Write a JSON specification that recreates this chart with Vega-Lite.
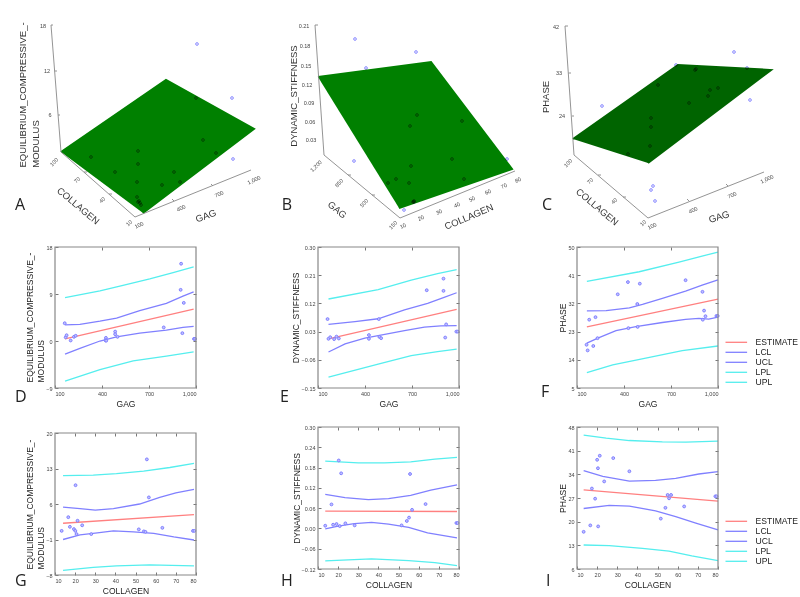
{"$schema":"https://vega.github.io/schema/vega-lite/v6.json","background":"white","padding":{"left":14,"top":22,"right":0,"bottom":0},"bounds":"flush","columns":3,"spacing":{"row":39,"column":118},"resolve":{"legend":{"color":"independent"}},
"config":{"view":{"stroke":null},"font":"Liberation Sans","axis":{"grid":false,"domain":false,"ticks":true,"tickSize":-3,"tickColor":"#777","labelFontSize":5.5,"labelColor":"#444","labelPadding":6,"titleFontSize":8.5,"titleFontWeight":"normal","titleColor":"#222","titlePadding":3},"title":{"orient":"bottom","anchor":"start","frame":"group","font":"Open Sans","fontSize":16,"fontWeight":"normal","color":"#222"}},
"datasets":{
"one":[{"frame":1}],
"Al":[{"g":"s","o":1,"h":61,"v":152},{"g":"s","o":2,"h":166,"v":80},{"g":"s","o":3,"h":254,"v":129},{"g":"s","o":4,"h":143,"v":213}],
"Bl":[{"g":"s","o":1,"h":318,"v":77},{"g":"s","o":2,"h":431,"v":62},{"g":"s","o":3,"h":512,"v":169},{"g":"s","o":4,"h":399,"v":208}],
"Cl":[{"g":"s","o":1,"h":573,"v":139},{"g":"s","o":2,"h":678,"v":65},{"g":"s","o":3,"h":771,"v":70},{"g":"s","o":4,"h":648,"v":163}],
"Aa":[{"g":"t","o":1,"h":53,"v":25},{"g":"t","o":2,"h":51,"v":25},{"g":"t","o":3,"h":61,"v":152},{"g":"t","o":4,"h":135,"v":217},{"g":"t","o":5,"h":251,"v":170},{"g":"a","o":1,"h":54.6,"v":71},{"g":"a","o":2,"h":57,"v":71},{"g":"b","o":1,"h":58,"v":115},{"g":"b","o":2,"h":60,"v":115},{"g":"c","o":1,"h":84,"v":172},{"g":"c","o":2,"h":87,"v":172},{"g":"d","o":1,"h":109,"v":194},{"g":"d","o":2,"h":112,"v":194},{"g":"e","o":1,"h":174,"v":201},{"g":"e","o":2,"h":172,"v":199},{"g":"f","o":1,"h":213,"v":186},{"g":"f","o":2,"h":211,"v":184}],
"Ba":[{"g":"t","o":1,"h":318,"v":25},{"g":"t","o":2,"h":315,"v":25},{"g":"t","o":3,"h":324,"v":155},{"g":"t","o":4,"h":400,"v":218},{"g":"t","o":5,"h":515,"v":171},{"g":"a","o":1,"h":348,"v":175},{"g":"a","o":2,"h":351,"v":175},{"g":"b","o":1,"h":372,"v":195},{"g":"b","o":2,"h":375,"v":195}],
"Ca":[{"g":"t","o":1,"h":568,"v":26},{"g":"t","o":2,"h":565,"v":26},{"g":"t","o":3,"h":574,"v":155},{"g":"t","o":4,"h":648,"v":218},{"g":"t","o":5,"h":764,"v":172},{"g":"a","o":1,"h":568.5,"v":73},{"g":"a","o":2,"h":571,"v":73},{"g":"b","o":1,"h":572,"v":116},{"g":"b","o":2,"h":574,"v":116},{"g":"c","o":1,"h":598,"v":175},{"g":"c","o":2,"h":601,"v":175},{"g":"d","o":1,"h":623,"v":197},{"g":"d","o":2,"h":626,"v":197},{"g":"e","o":1,"h":689,"v":201},{"g":"e","o":2,"h":687,"v":199},{"g":"f","o":1,"h":728,"v":186},{"g":"f","o":2,"h":726,"v":184}],
"Ap":[{"h":197,"v":44},{"h":232,"v":98},{"h":233,"v":159},{"h":196,"v":98},{"h":203,"v":140},{"h":216,"v":153},{"h":91,"v":157},{"h":115,"v":172},{"h":138,"v":151},{"h":138,"v":164},{"h":137,"v":182},{"h":174,"v":172},{"h":180,"v":182},{"h":162,"v":185},{"h":137,"v":197},{"h":139,"v":201},{"h":141,"v":205},{"h":138,"v":202},{"h":140,"v":203}],
"Bp":[{"h":355,"v":39},{"h":416,"v":52},{"h":366,"v":68},{"h":417,"v":115},{"h":410,"v":126},{"h":462,"v":121},{"h":452,"v":159},{"h":507,"v":159},{"h":354,"v":161},{"h":411,"v":166},{"h":388,"v":183},{"h":396,"v":179},{"h":409,"v":183},{"h":464,"v":179},{"h":413,"v":202},{"h":414,"v":202},{"h":404,"v":210},{"h":414,"v":201}],
"Cp":[{"h":602,"v":106},{"h":676,"v":65},{"h":696,"v":69},{"h":734,"v":52},{"h":747,"v":68},{"h":750,"v":100},{"h":658,"v":85},{"h":651,"v":118},{"h":651,"v":127},{"h":650,"v":146},{"h":628,"v":154},{"h":689,"v":103},{"h":708,"v":96},{"h":710,"v":90},{"h":718,"v":88},{"h":653,"v":186},{"h":651,"v":190},{"h":655,"v":201},{"h":695,"v":70}],
"At":[{"k":"z","t":"18","h":43,"v":26},{"k":"z","t":"12","h":47,"v":71},{"k":"z","t":"6","h":50,"v":115},{"k":"c","t":"100","h":54,"v":162},{"k":"c","t":"70","h":77,"v":180},{"k":"c","t":"40","h":102,"v":200},{"k":"c","t":"10","h":129,"v":223},{"k":"g","t":"100","h":139,"v":225},{"k":"g","t":"400","h":181,"v":208},{"k":"g","t":"700","h":219,"v":194},{"k":"g","t":"1,000","h":254,"v":180},{"k":"C","t":"COLLAGEN","h":78,"v":206},{"k":"G","t":"GAG","h":206,"v":216},{"k":"Z","t":"EQUILIBRIUM_COMPRESSIVE_-","h":23,"v":95},{"k":"Z","t":"MODULUS","h":36,"v":144},{"k":"L","t":"A","h":20,"v":205}],
"Bt":[{"k":"z","t":"0.21","h":304,"v":26},{"k":"z","t":"0.18","h":305,"v":46},{"k":"z","t":"0.15","h":306,"v":66},{"k":"z","t":"0.12","h":307,"v":85},{"k":"z","t":"0.09","h":309,"v":103},{"k":"z","t":"0.06","h":310,"v":122},{"k":"z","t":"0.03","h":311,"v":140},{"k":"c","t":"1,200","h":316,"v":166},{"k":"c","t":"850","h":339,"v":183},{"k":"c","t":"500","h":364,"v":203},{"k":"c","t":"150","h":393,"v":225},{"k":"g","t":"10","h":403,"v":226},{"k":"g","t":"20","h":421,"v":218},{"k":"g","t":"30","h":439,"v":212},{"k":"g","t":"40","h":457,"v":205},{"k":"g","t":"50","h":472,"v":199},{"k":"g","t":"60","h":488,"v":192},{"k":"g","t":"70","h":504,"v":186},{"k":"g","t":"80","h":518,"v":180},{"k":"C","t":"GAG","h":337,"v":210},{"k":"G","t":"COLLAGEN","h":469,"v":217},{"k":"Z","t":"DYNAMIC_STIFFNESS","h":294,"v":96},{"k":"L","t":"B","h":287,"v":205}],
"Ct":[{"k":"z","t":"42","h":556,"v":27},{"k":"z","t":"33","h":559,"v":73},{"k":"z","t":"24","h":562,"v":116},{"k":"c","t":"100","h":568,"v":163},{"k":"c","t":"70","h":590,"v":181},{"k":"c","t":"40","h":614,"v":201},{"k":"c","t":"10","h":643,"v":223},{"k":"g","t":"100","h":652,"v":226},{"k":"g","t":"400","h":693,"v":210},{"k":"g","t":"700","h":732,"v":195},{"k":"g","t":"1,000","h":767,"v":179},{"k":"C","t":"COLLAGEN","h":597,"v":207},{"k":"G","t":"GAG","h":719,"v":217},{"k":"Z","t":"PHASE","h":546,"v":97},{"k":"L","t":"C","h":547,"v":205}],
"Dl":[{"s":"UPL","x":164,"y":8.3},{"s":"UPL","x":387,"y":9.6},{"s":"UPL","x":514,"y":10.5},{"s":"UPL","x":705,"y":11.9},{"s":"UPL","x":854,"y":13.1},{"s":"UPL","x":985,"y":14.2},{"s":"UCL","x":164,"y":3.1},{"s":"UCL","x":259,"y":3.2},{"s":"UCL","x":387,"y":3.8},{"s":"UCL","x":493,"y":4.4},{"s":"UCL","x":641,"y":5.8},{"s":"UCL","x":811,"y":7.2},{"s":"UCL","x":917,"y":8.6},{"s":"UCL","x":985,"y":9.4},{"s":"ESTIMATE","x":164,"y":0.4},{"s":"ESTIMATE","x":985,"y":6.1},{"s":"LCL","x":164,"y":-2.5},{"s":"LCL","x":259,"y":-1.4},{"s":"LCL","x":387,"y":0},{"s":"LCL","x":493,"y":0.8},{"s":"LCL","x":641,"y":1.5},{"s":"LCL","x":811,"y":2.1},{"s":"LCL","x":917,"y":2.6},{"s":"LCL","x":985,"y":2.8},{"s":"LPL","x":164,"y":-7.7},{"s":"LPL","x":387,"y":-5.5},{"s":"LPL","x":599,"y":-3.8},{"s":"LPL","x":811,"y":-2.9},{"s":"LPL","x":985,"y":-2.1}],
"Dp":[{"x":162,"y":3.4},{"x":168,"y":0.7},{"x":174,"y":1.1},{"x":200,"y":0.1},{"x":221,"y":0.8},{"x":232,"y":1},{"x":425,"y":0.6},{"x":423,"y":0.1},{"x":427,"y":0.06},{"x":484,"y":1.8},{"x":484,"y":1.3},{"x":499,"y":0.8},{"x":794,"y":2.6},{"x":905,"y":14.8},{"x":902,"y":9.8},{"x":922,"y":7.3},{"x":913,"y":1.5},{"x":987,"y":0.4},{"x":994,"y":0.4}],
"El":[{"s":"UPL","x":167,"y":0.134},{"s":"UPL","x":484,"y":0.164},{"s":"UPL","x":695,"y":0.194},{"s":"UPL","x":863,"y":0.215},{"s":"UPL","x":985,"y":0.228},{"s":"UCL","x":167,"y":0.053},{"s":"UCL","x":336,"y":0.062},{"s":"UCL","x":484,"y":0.071},{"s":"UCL","x":652,"y":0.099},{"s":"UCL","x":800,"y":0.12},{"s":"UCL","x":905,"y":0.139},{"s":"UCL","x":985,"y":0.154},{"s":"ESTIMATE","x":167,"y":0.007},{"s":"ESTIMATE","x":985,"y":0.101},{"s":"LCL","x":167,"y":-0.035},{"s":"LCL","x":273,"y":-0.009},{"s":"LCL","x":399,"y":0.009},{"s":"LCL","x":484,"y":0.017},{"s":"LCL","x":652,"y":0.033},{"s":"LCL","x":779,"y":0.044},{"s":"LCL","x":884,"y":0.048},{"s":"LCL","x":985,"y":0.049},{"s":"LPL","x":167,"y":-0.115},{"s":"LPL","x":484,"y":-0.074},{"s":"LPL","x":695,"y":-0.047},{"s":"LPL","x":863,"y":-0.034},{"s":"LPL","x":985,"y":-0.026}],
"Ep":[{"x":161,"y":0.07},{"x":167,"y":0.007},{"x":178,"y":0.012},{"x":203,"y":0.006},{"x":218,"y":0.014},{"x":233,"y":0.008},{"x":425,"y":0.019},{"x":425,"y":0.007},{"x":488,"y":0.07},{"x":492,"y":0.013},{"x":503,"y":0.009},{"x":794,"y":0.162},{"x":901,"y":0.199},{"x":901,"y":0.16},{"x":918,"y":0.053},{"x":912,"y":0.011},{"x":983,"y":0.03},{"x":992,"y":0.03}],
"Fl":[{"s":"UPL","x":163,"y":39},{"s":"UPL","x":497,"y":42.1},{"s":"UPL","x":751,"y":45.2},{"s":"UPL","x":1000,"y":48.4},{"s":"UCL","x":163,"y":29.6},{"s":"UCL","x":286,"y":29.7},{"s":"UCL","x":434,"y":30.6},{"s":"UCL","x":518,"y":31.7},{"s":"UCL","x":645,"y":33.6},{"s":"UCL","x":793,"y":35.9},{"s":"UCL","x":899,"y":37.8},{"s":"UCL","x":1000,"y":39.5},{"s":"ESTIMATE","x":163,"y":24.5},{"s":"ESTIMATE","x":1000,"y":33.4},{"s":"LCL","x":163,"y":19.3},{"s":"LCL","x":233,"y":20.9},{"s":"LCL","x":349,"y":23.3},{"s":"LCL","x":476,"y":24.6},{"s":"LCL","x":645,"y":25.9},{"s":"LCL","x":793,"y":26.9},{"s":"LCL","x":878,"y":27.2},{"s":"LCL","x":941,"y":27},{"s":"LCL","x":1000,"y":27.6},{"s":"LPL","x":163,"y":9.9},{"s":"LPL","x":328,"y":12.4},{"s":"LPL","x":539,"y":14.5},{"s":"LPL","x":772,"y":16.9},{"s":"LPL","x":1000,"y":18.4}],
"Fp":[{"x":161,"y":18.8},{"x":168,"y":17},{"x":178,"y":26.8},{"x":204,"y":18.4},{"x":218,"y":27.6},{"x":231,"y":20.9},{"x":360,"y":34.9},{"x":425,"y":38.8},{"x":428,"y":24.1},{"x":487,"y":24.5},{"x":485,"y":31.8},{"x":501,"y":38.3},{"x":793,"y":39.4},{"x":901,"y":35.7},{"x":911,"y":29.7},{"x":903,"y":26.8},{"x":920,"y":27.9},{"x":990,"y":28},{"x":998,"y":28}],
"Gl":[{"s":"UPL","x":14,"y":11.6},{"s":"UPL","x":29,"y":11.7},{"s":"UPL","x":40.5,"y":12},{"s":"UPL","x":54,"y":12.5},{"s":"UPL","x":67,"y":13.2},{"s":"UPL","x":79,"y":14},{"s":"UCL","x":14,"y":5.4},{"s":"UCL","x":22.4,"y":5.1},{"s":"UCL","x":30,"y":4.8},{"s":"UCL","x":39,"y":5.1},{"s":"UCL","x":52,"y":6},{"s":"UCL","x":62,"y":7.3},{"s":"UCL","x":70,"y":8.2},{"s":"UCL","x":79,"y":8.9},{"s":"ESTIMATE","x":14,"y":2.2},{"s":"ESTIMATE","x":79,"y":3.9},{"s":"LCL","x":14,"y":-1},{"s":"LCL","x":22.4,"y":-0.1},{"s":"LCL","x":31,"y":0.3},{"s":"LCL","x":39,"y":0.7},{"s":"LCL","x":49,"y":0.5},{"s":"LCL","x":59,"y":0.2},{"s":"LCL","x":69,"y":-0.5},{"s":"LCL","x":79,"y":-1.1},{"s":"LPL","x":14,"y":-7.1},{"s":"LPL","x":29,"y":-6.5},{"s":"LPL","x":40.5,"y":-6.2},{"s":"LPL","x":57,"y":-6},{"s":"LPL","x":79,"y":-6.2}],
"Gp":[{"x":13.3,"y":0.7},{"x":16.6,"y":3.4},{"x":17.4,"y":1.5},{"x":19.4,"y":1.05},{"x":20.1,"y":0.7},{"x":20.2,"y":9.7},{"x":20.7,"y":0.07},{"x":21.2,"y":2.7},{"x":23.5,"y":1.8},{"x":28,"y":0.07},{"x":51.6,"y":1},{"x":54.1,"y":0.6},{"x":54.9,"y":0.5},{"x":55.6,"y":14.8},{"x":56.6,"y":7.3},{"x":63.3,"y":1.3},{"x":78.5,"y":0.7},{"x":79.2,"y":0.7}],
"Hl":[{"s":"UPL","x":13.6,"y":0.199},{"s":"UPL","x":30,"y":0.194},{"s":"UPL","x":43,"y":0.194},{"s":"UPL","x":56,"y":0.197},{"s":"UPL","x":68,"y":0.205},{"s":"UPL","x":79,"y":0.21},{"s":"UCL","x":13.6,"y":0.101},{"s":"UCL","x":23.4,"y":0.091},{"s":"UCL","x":35,"y":0.085},{"s":"UCL","x":45,"y":0.088},{"s":"UCL","x":56,"y":0.098},{"s":"UCL","x":66,"y":0.113},{"s":"UCL","x":79,"y":0.129},{"s":"ESTIMATE","x":13.6,"y":0.051},{"s":"ESTIMATE","x":79,"y":0.05},{"s":"LCL","x":13.6,"y":-0.001},{"s":"LCL","x":20,"y":0.007},{"s":"LCL","x":28,"y":0.014},{"s":"LCL","x":36.6,"y":0.018},{"s":"LCL","x":45,"y":0.013},{"s":"LCL","x":55,"y":0.003},{"s":"LCL","x":64.4,"y":-0.013},{"s":"LCL","x":79,"y":-0.028},{"s":"LPL","x":13.6,"y":-0.096},{"s":"LPL","x":25,"y":-0.093},{"s":"LPL","x":36.6,"y":-0.09},{"s":"LPL","x":55,"y":-0.095},{"s":"LPL","x":68,"y":-0.101},{"s":"LPL","x":79,"y":-0.11}],
"Hp":[{"x":13.6,"y":0.008},{"x":16.7,"y":0.071},{"x":17.5,"y":0.011},{"x":19.2,"y":0.013},{"x":20.3,"y":0.201},{"x":20.8,"y":0.007},{"x":21.5,"y":0.163},{"x":23.6,"y":0.015},{"x":28.2,"y":0.009},{"x":51.5,"y":0.009},{"x":54.1,"y":0.022},{"x":55.2,"y":0.032},{"x":55.7,"y":0.161},{"x":56.7,"y":0.055},{"x":63.4,"y":0.072},{"x":78.7,"y":0.016},{"x":79.3,"y":0.016}],
"Il":[{"s":"UPL","x":13.3,"y":45.6},{"s":"UPL","x":24.5,"y":44.7},{"s":"UPL","x":36,"y":44},{"s":"UPL","x":52.4,"y":43.6},{"s":"UPL","x":64,"y":43.5},{"s":"UPL","x":80,"y":43.8},{"s":"UCL","x":13.3,"y":35.1},{"s":"UCL","x":22.8,"y":33.4},{"s":"UCL","x":36,"y":32},{"s":"UCL","x":49,"y":32.2},{"s":"UCL","x":59,"y":32.8},{"s":"UCL","x":70.5,"y":34.1},{"s":"UCL","x":80,"y":34.8},{"s":"ESTIMATE","x":13.3,"y":29.4},{"s":"ESTIMATE","x":80,"y":26.1},{"s":"LCL","x":13.3,"y":23.9},{"s":"LCL","x":26,"y":24.8},{"s":"LCL","x":36,"y":24.6},{"s":"LCL","x":49,"y":23.2},{"s":"LCL","x":59,"y":21.5},{"s":"LCL","x":69,"y":19.6},{"s":"LCL","x":80,"y":17.6},{"s":"LPL","x":13.3,"y":13.1},{"s":"LPL","x":26,"y":12.9},{"s":"LPL","x":42.5,"y":12.1},{"s":"LPL","x":55.7,"y":11.3},{"s":"LPL","x":67,"y":9.9},{"s":"LPL","x":80,"y":8.5}],
"Ip":[{"x":13.3,"y":17},{"x":16.6,"y":18.9},{"x":17.4,"y":29.8},{"x":19,"y":26.8},{"x":20,"y":38.3},{"x":20.4,"y":35.8},{"x":20.5,"y":18.6},{"x":21.3,"y":39.5},{"x":23.5,"y":31.9},{"x":28,"y":38.8},{"x":36,"y":34.9},{"x":51.6,"y":20.9},{"x":53.9,"y":24.1},{"x":55,"y":27.9},{"x":55.7,"y":26.9},{"x":56.7,"y":27.9},{"x":63.2,"y":24.5},{"x":78.7,"y":27.5},{"x":79.3,"y":27.5}]
},
"concat":[
{"width":145,"height":141,"layer":[
{"data":{"name":"Al"},"mark":{"type":"line","fill":"#008000","stroke":"#008000"},"encoding":{"x":{"field":"h","type":"quantitative","scale":{"domain":[55,200],"nice":false},"axis":null},"y":{"field":"v","type":"quantitative","scale":{"domain":[208,67],"nice":false},"axis":null},"order":{"field":"o"}}},
{"data":{"name":"Aa"},"mark":{"type":"line","stroke":"#888","strokeWidth":0.9},"encoding":{"x":{"field":"h","type":"quantitative"},"y":{"field":"v","type":"quantitative"},"detail":{"field":"g"},"order":{"field":"o"}}},
{"data":{"name":"Ap"},"mark":{"type":"point","size":8,"fill":"#d8d8ff","fillOpacity":1,"stroke":"#9c9cff","strokeWidth":1,"blend":"multiply"},"encoding":{"x":{"field":"h","type":"quantitative"},"y":{"field":"v","type":"quantitative"}}},
{"data":{"name":"At"},"transform":[{"filter":"datum.k=='z'"}],"mark":{"type":"text","fontSize":5.5,"color":"#444"},"encoding":{"x":{"field":"h","type":"quantitative"},"y":{"field":"v","type":"quantitative"},"text":{"field":"t"}}},
{"data":{"name":"At"},"transform":[{"filter":"datum.k=='c'"}],"mark":{"type":"text","fontSize":5.5,"color":"#444","angle":-45},"encoding":{"x":{"field":"h","type":"quantitative"},"y":{"field":"v","type":"quantitative"},"text":{"field":"t"}}},
{"data":{"name":"At"},"transform":[{"filter":"datum.k=='g'"}],"mark":{"type":"text","fontSize":5.5,"color":"#444","angle":-25},"encoding":{"x":{"field":"h","type":"quantitative"},"y":{"field":"v","type":"quantitative"},"text":{"field":"t"}}},
{"data":{"name":"At"},"transform":[{"filter":"datum.k=='C'"}],"mark":{"type":"text","fontSize":9.5,"color":"#333","angle":40},"encoding":{"x":{"field":"h","type":"quantitative"},"y":{"field":"v","type":"quantitative"},"text":{"field":"t"}}},
{"data":{"name":"At"},"transform":[{"filter":"datum.k=='G'"}],"mark":{"type":"text","fontSize":9.5,"color":"#333","angle":-20},"encoding":{"x":{"field":"h","type":"quantitative"},"y":{"field":"v","type":"quantitative"},"text":{"field":"t"}}},
{"data":{"name":"At"},"transform":[{"filter":"datum.k=='Z'"}],"mark":{"type":"text","fontSize":9.5,"color":"#333","angle":-90},"encoding":{"x":{"field":"h","type":"quantitative"},"y":{"field":"v","type":"quantitative"},"text":{"field":"t"}}},
{"data":{"name":"At"},"transform":[{"filter":"datum.k=='L'"}],"mark":{"type":"text","fontSize":16,"font":"Open Sans","color":"#222"},"encoding":{"x":{"field":"h","type":"quantitative"},"y":{"field":"v","type":"quantitative"},"text":{"field":"t"}}}
]},
{"width":141,"height":141,"layer":[
{"data":{"name":"Bl"},"mark":{"type":"line","fill":"#008000","stroke":"#008000"},"encoding":{"x":{"field":"h","type":"quantitative","scale":{"domain":[318,459],"nice":false},"axis":null},"y":{"field":"v","type":"quantitative","scale":{"domain":[208,67],"nice":false},"axis":null},"order":{"field":"o"}}},
{"data":{"name":"Ba"},"mark":{"type":"line","stroke":"#888","strokeWidth":0.9},"encoding":{"x":{"field":"h","type":"quantitative"},"y":{"field":"v","type":"quantitative"},"detail":{"field":"g"},"order":{"field":"o"}}},
{"data":{"name":"Bp"},"mark":{"type":"point","size":8,"fill":"#d8d8ff","fillOpacity":1,"stroke":"#9c9cff","strokeWidth":1,"blend":"multiply"},"encoding":{"x":{"field":"h","type":"quantitative"},"y":{"field":"v","type":"quantitative"}}},
{"data":{"name":"Bt"},"transform":[{"filter":"datum.k=='z'"}],"mark":{"type":"text","fontSize":5.5,"color":"#444"},"encoding":{"x":{"field":"h","type":"quantitative"},"y":{"field":"v","type":"quantitative"},"text":{"field":"t"}}},
{"data":{"name":"Bt"},"transform":[{"filter":"datum.k=='c'"}],"mark":{"type":"text","fontSize":5.5,"color":"#444","angle":-45},"encoding":{"x":{"field":"h","type":"quantitative"},"y":{"field":"v","type":"quantitative"},"text":{"field":"t"}}},
{"data":{"name":"Bt"},"transform":[{"filter":"datum.k=='g'"}],"mark":{"type":"text","fontSize":5.5,"color":"#444","angle":-25},"encoding":{"x":{"field":"h","type":"quantitative"},"y":{"field":"v","type":"quantitative"},"text":{"field":"t"}}},
{"data":{"name":"Bt"},"transform":[{"filter":"datum.k=='C'"}],"mark":{"type":"text","fontSize":9.5,"color":"#333","angle":40},"encoding":{"x":{"field":"h","type":"quantitative"},"y":{"field":"v","type":"quantitative"},"text":{"field":"t"}}},
{"data":{"name":"Bt"},"transform":[{"filter":"datum.k=='G'"}],"mark":{"type":"text","fontSize":9.5,"color":"#333","angle":-23},"encoding":{"x":{"field":"h","type":"quantitative"},"y":{"field":"v","type":"quantitative"},"text":{"field":"t"}}},
{"data":{"name":"Bt"},"transform":[{"filter":"datum.k=='Z'"}],"mark":{"type":"text","fontSize":9.5,"color":"#333","angle":-90},"encoding":{"x":{"field":"h","type":"quantitative"},"y":{"field":"v","type":"quantitative"},"text":{"field":"t"}}},
{"data":{"name":"Bt"},"transform":[{"filter":"datum.k=='L'"}],"mark":{"type":"text","fontSize":16,"font":"Open Sans","color":"#222"},"encoding":{"x":{"field":"h","type":"quantitative"},"y":{"field":"v","type":"quantitative"},"text":{"field":"t"}}}
]},
{"width":141,"height":141,"layer":[
{"data":{"name":"Cl"},"mark":{"type":"line","fill":"#006400","stroke":"#006400"},"encoding":{"x":{"field":"h","type":"quantitative","scale":{"domain":[577,718],"nice":false},"axis":null},"y":{"field":"v","type":"quantitative","scale":{"domain":[208,67],"nice":false},"axis":null},"order":{"field":"o"}}},
{"data":{"name":"Ca"},"mark":{"type":"line","stroke":"#888","strokeWidth":0.9},"encoding":{"x":{"field":"h","type":"quantitative"},"y":{"field":"v","type":"quantitative"},"detail":{"field":"g"},"order":{"field":"o"}}},
{"data":{"name":"Cp"},"mark":{"type":"point","size":8,"fill":"#d8d8ff","fillOpacity":1,"stroke":"#9c9cff","strokeWidth":1,"blend":"multiply"},"encoding":{"x":{"field":"h","type":"quantitative"},"y":{"field":"v","type":"quantitative"}}},
{"data":{"name":"Ct"},"transform":[{"filter":"datum.k=='z'"}],"mark":{"type":"text","fontSize":5.5,"color":"#444"},"encoding":{"x":{"field":"h","type":"quantitative"},"y":{"field":"v","type":"quantitative"},"text":{"field":"t"}}},
{"data":{"name":"Ct"},"transform":[{"filter":"datum.k=='c'"}],"mark":{"type":"text","fontSize":5.5,"color":"#444","angle":-45},"encoding":{"x":{"field":"h","type":"quantitative"},"y":{"field":"v","type":"quantitative"},"text":{"field":"t"}}},
{"data":{"name":"Ct"},"transform":[{"filter":"datum.k=='g'"}],"mark":{"type":"text","fontSize":5.5,"color":"#444","angle":-25},"encoding":{"x":{"field":"h","type":"quantitative"},"y":{"field":"v","type":"quantitative"},"text":{"field":"t"}}},
{"data":{"name":"Ct"},"transform":[{"filter":"datum.k=='C'"}],"mark":{"type":"text","fontSize":9.5,"color":"#333","angle":40},"encoding":{"x":{"field":"h","type":"quantitative"},"y":{"field":"v","type":"quantitative"},"text":{"field":"t"}}},
{"data":{"name":"Ct"},"transform":[{"filter":"datum.k=='G'"}],"mark":{"type":"text","fontSize":9.5,"color":"#333","angle":-18},"encoding":{"x":{"field":"h","type":"quantitative"},"y":{"field":"v","type":"quantitative"},"text":{"field":"t"}}},
{"data":{"name":"Ct"},"transform":[{"filter":"datum.k=='Z'"}],"mark":{"type":"text","fontSize":9.5,"color":"#333","angle":-90},"encoding":{"x":{"field":"h","type":"quantitative"},"y":{"field":"v","type":"quantitative"},"text":{"field":"t"}}},
{"data":{"name":"Ct"},"transform":[{"filter":"datum.k=='L'"}],"mark":{"type":"text","fontSize":16,"font":"Open Sans","color":"#222"},"encoding":{"x":{"field":"h","type":"quantitative"},"y":{"field":"v","type":"quantitative"},"text":{"field":"t"}}}
]},
{"width":141,"height":141,"title":{"text":"D","dx":-40,"offset":-19},"layer":[
{"data":{"name":"Dl"},"mark":{"type":"line","strokeWidth":1.3},"encoding":{"x":{"field":"x","type":"quantitative","title":"GAG","scale":{"domain":[100,1000],"nice":false},"axis":{"values":[100,400,700,1000]}},"y":{"field":"y","type":"quantitative","title":["EQUILIBRIUM_COMPRESSIVE_-","MODULUS"],"scale":{"domain":[-9,18],"nice":false},"axis":{"values":[-9,0,9,18],"titleAngle":-90,"titleAlign":"left","titleX":-21,"titleY":135,"titleLineHeight":11}},"color":{"field":"s","legend":null,"scale":{"domain":["ESTIMATE","LCL","UCL","LPL","UPL"],"range":["#ff8080","#8080ff","#8080ff","#55eeee","#55eeee"]}}}},
{"data":{"name":"Dp"},"mark":{"type":"point","size":8,"fill":"#c0c0ff","fillOpacity":1,"stroke":"#8080ff","strokeWidth":1},"encoding":{"x":{"field":"x","type":"quantitative","axis":null},"y":{"field":"y","type":"quantitative","axis":null}}},
{"data":{"name":"one"},"mark":{"type":"rect","filled":false,"fillOpacity":0,"stroke":"#888","strokeWidth":1.2},"encoding":{"x":{"datum":100,"type":"quantitative","axis":{"orient":"top","labels":false,"title":null,"values":[400,700]}},"x2":{"datum":1000},"y":{"datum":-9,"type":"quantitative","axis":{"orient":"right","labels":false,"title":null,"values":[0,9]}},"y2":{"datum":18}}}
],"resolve":{"axis":{"x":"independent","y":"independent"}}},
{"width":141,"height":141,"title":{"text":"E","dx":-38,"offset":-19},"layer":[
{"data":{"name":"El"},"mark":{"type":"line","strokeWidth":1.3},"encoding":{"x":{"field":"x","type":"quantitative","title":"GAG","scale":{"domain":[100,1000],"nice":false},"axis":{"values":[100,400,700,1000]}},"y":{"field":"y","type":"quantitative","title":"DYNAMIC_STIFFNESS","scale":{"domain":[-0.15,0.3],"nice":false},"axis":{"values":[-0.15,-0.06,0.03,0.12,0.21,0.3],"format":".2f","titlePadding":1}},"color":{"field":"s","legend":null,"scale":{"domain":["ESTIMATE","LCL","UCL","LPL","UPL"],"range":["#ff8080","#8080ff","#8080ff","#55eeee","#55eeee"]}}}},
{"data":{"name":"Ep"},"mark":{"type":"point","size":8,"fill":"#c0c0ff","fillOpacity":1,"stroke":"#8080ff","strokeWidth":1},"encoding":{"x":{"field":"x","type":"quantitative","axis":null},"y":{"field":"y","type":"quantitative","axis":null}}},
{"data":{"name":"one"},"mark":{"type":"rect","filled":false,"fillOpacity":0,"stroke":"#888","strokeWidth":1.2},"encoding":{"x":{"datum":100,"type":"quantitative","axis":{"orient":"top","labels":false,"title":null,"values":[400,700]}},"x2":{"datum":1000},"y":{"datum":-0.15,"type":"quantitative","axis":{"orient":"right","labels":false,"title":null,"values":[-0.06,0.03,0.12,0.21]}},"y2":{"datum":0.3}}}
],"resolve":{"axis":{"x":"independent","y":"independent"}}},
{"width":141,"height":141,"title":{"text":"F","dx":-36,"offset":-24},"layer":[
{"data":{"name":"Fl"},"mark":{"type":"line","strokeWidth":1.3},"encoding":{"x":{"field":"x","type":"quantitative","title":"GAG","scale":{"domain":[100,1000],"nice":false},"axis":{"values":[100,400,700,1000]}},"y":{"field":"y","type":"quantitative","title":"PHASE","scale":{"domain":[5,50],"nice":false},"axis":{"values":[5,14,23,32,41,50],"titlePadding":0}},"color":{"field":"s","title":null,"scale":{"domain":["ESTIMATE","LCL","UCL","LPL","UPL"],"range":["#ff8080","#8080ff","#8080ff","#55eeee","#55eeee"]},"legend":{"orient":"none","legendX":155,"legendY":91,"symbolType":"M-3.6,0L3.6,0","symbolSize":36,"symbolStrokeWidth":1.3,"labelFontSize":8.6,"labelColor":"#222","labelOffset":15,"rowPadding":1,"padding":0}}}},
{"data":{"name":"Fp"},"mark":{"type":"point","size":8,"fill":"#c0c0ff","fillOpacity":1,"stroke":"#8080ff","strokeWidth":1},"encoding":{"x":{"field":"x","type":"quantitative","axis":null},"y":{"field":"y","type":"quantitative","axis":null}}},
{"data":{"name":"one"},"mark":{"type":"rect","filled":false,"fillOpacity":0,"stroke":"#888","strokeWidth":1.2},"encoding":{"x":{"datum":100,"type":"quantitative","axis":{"orient":"top","labels":false,"title":null,"values":[400,700]}},"x2":{"datum":1000},"y":{"datum":5,"type":"quantitative","axis":{"orient":"right","labels":false,"title":null,"values":[14,23,32,41]}},"y2":{"datum":50}}}
],"resolve":{"axis":{"x":"independent","y":"independent"}}},
{"width":141,"height":148,"title":{"text":"G","dx":-40,"offset":-22},"layer":[
{"data":{"name":"Gl"},"mark":{"type":"line","strokeWidth":1.3},"encoding":{"x":{"field":"x","type":"quantitative","title":"COLLAGEN","scale":{"domain":[10,80],"nice":false},"axis":{"values":[10,20,30,40,50,60,70,80]}},"y":{"field":"y","type":"quantitative","title":["EQUILIBRIUM_COMPRESSIVE_-","MODULUS"],"scale":{"domain":[-8,20],"nice":false,"range":[148,6]},"axis":{"values":[-8,-1,6,13,20],"titleAngle":-90,"titleAlign":"left","titleX":-21,"titleY":142,"titleLineHeight":11}},"color":{"field":"s","legend":null,"scale":{"domain":["ESTIMATE","LCL","UCL","LPL","UPL"],"range":["#ff8080","#8080ff","#8080ff","#55eeee","#55eeee"]}}}},
{"data":{"name":"Gp"},"mark":{"type":"point","size":8,"fill":"#c0c0ff","fillOpacity":1,"stroke":"#8080ff","strokeWidth":1},"encoding":{"x":{"field":"x","type":"quantitative","axis":null},"y":{"field":"y","type":"quantitative","axis":null}}},
{"data":{"name":"one"},"mark":{"type":"rect","filled":false,"fillOpacity":0,"stroke":"#888","strokeWidth":1.2},"encoding":{"x":{"datum":10,"type":"quantitative","axis":{"orient":"top","offset":-6,"labels":false,"title":null,"values":[20,30,40,50,60,70]}},"x2":{"datum":80},"y":{"datum":-8,"type":"quantitative","axis":{"orient":"right","labels":false,"title":null,"values":[-1,6,13]}},"y2":{"datum":20}}}
],"resolve":{"axis":{"x":"independent","y":"independent"}}},
{"width":141,"height":142,"title":{"text":"H","dx":-37,"offset":-16},"layer":[
{"data":{"name":"Hl"},"mark":{"type":"line","strokeWidth":1.3},"encoding":{"x":{"field":"x","type":"quantitative","title":"COLLAGEN","scale":{"domain":[10,80],"nice":false},"axis":{"values":[10,20,30,40,50,60,70,80]}},"y":{"field":"y","type":"quantitative","title":"DYNAMIC_STIFFNESS","scale":{"domain":[-0.12,0.3],"nice":false},"axis":{"values":[-0.12,-0.06,0,0.06,0.12,0.18,0.24,0.3],"format":".2f","titlePadding":0}},"color":{"field":"s","legend":null,"scale":{"domain":["ESTIMATE","LCL","UCL","LPL","UPL"],"range":["#ff8080","#8080ff","#8080ff","#55eeee","#55eeee"]}}}},
{"data":{"name":"Hp"},"mark":{"type":"point","size":8,"fill":"#c0c0ff","fillOpacity":1,"stroke":"#8080ff","strokeWidth":1},"encoding":{"x":{"field":"x","type":"quantitative","axis":null},"y":{"field":"y","type":"quantitative","axis":null}}},
{"data":{"name":"one"},"mark":{"type":"rect","filled":false,"fillOpacity":0,"stroke":"#888","strokeWidth":1.2},"encoding":{"x":{"datum":10,"type":"quantitative","axis":{"orient":"top","labels":false,"title":null,"values":[20,30,40,50,60,70]}},"x2":{"datum":80},"y":{"datum":-0.12,"type":"quantitative","axis":{"orient":"right","labels":false,"title":null,"values":[-0.06,0,0.06,0.12,0.18,0.24]}},"y2":{"datum":0.3}}}
],"resolve":{"axis":{"x":"independent","y":"independent"}}},
{"width":141,"height":142,"title":{"text":"I","dx":-31,"offset":-16},"layer":[
{"data":{"name":"Il"},"mark":{"type":"line","strokeWidth":1.3},"encoding":{"x":{"field":"x","type":"quantitative","title":"COLLAGEN","scale":{"domain":[10,80],"nice":false},"axis":{"values":[10,20,30,40,50,60,70,80]}},"y":{"field":"y","type":"quantitative","title":"PHASE","scale":{"domain":[6,48],"nice":false},"axis":{"values":[6,13,20,27,34,41,48],"titlePadding":0}},"color":{"field":"s","title":null,"scale":{"domain":["ESTIMATE","LCL","UCL","LPL","UPL"],"range":["#ff8080","#8080ff","#8080ff","#55eeee","#55eeee"]},"legend":{"orient":"none","legendX":155,"legendY":90,"symbolType":"M-3.6,0L3.6,0","symbolSize":36,"symbolStrokeWidth":1.3,"labelFontSize":8.6,"labelColor":"#222","labelOffset":15,"rowPadding":1,"padding":0}}}},
{"data":{"name":"Ip"},"mark":{"type":"point","size":8,"fill":"#c0c0ff","fillOpacity":1,"stroke":"#8080ff","strokeWidth":1},"encoding":{"x":{"field":"x","type":"quantitative","axis":null},"y":{"field":"y","type":"quantitative","axis":null}}},
{"data":{"name":"one"},"mark":{"type":"rect","filled":false,"fillOpacity":0,"stroke":"#888","strokeWidth":1.2},"encoding":{"x":{"datum":10,"type":"quantitative","axis":{"orient":"top","labels":false,"title":null,"values":[20,30,40,50,60,70]}},"x2":{"datum":80},"y":{"datum":6,"type":"quantitative","axis":{"orient":"right","labels":false,"title":null,"values":[13,20,27,34,41]}},"y2":{"datum":48}}}
],"resolve":{"axis":{"x":"independent","y":"independent"}}}
]}
